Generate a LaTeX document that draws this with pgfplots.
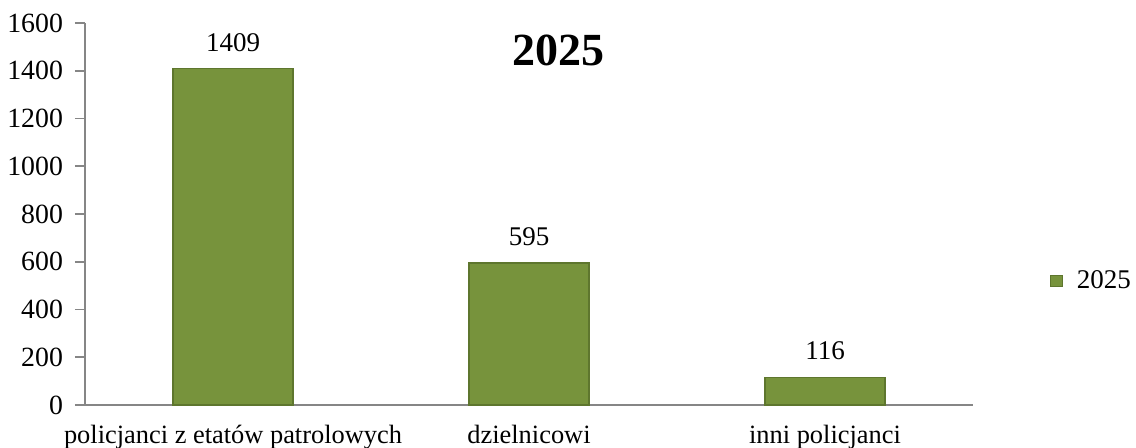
\documentclass[border=0pt]{standalone}
\usepackage{pgfplots}
\pgfplotsset{compat=1.18}
\usepackage{fontspec}
\setmainfont{Liberation Serif}
\definecolor{barg}{RGB}{119,147,60}
\definecolor{bard}{RGB}{94,118,46}
\definecolor{axg}{RGB}{134,134,134}
\begin{document}
\begin{tikzpicture}
\path[use as bounding box] (0,0) rectangle (568pt,224pt);
\begin{axis}[
  at={(42.5pt,21.5pt)}, anchor=south west,
  scale only axis, width=444pt, height=191pt,
  xmin=-0.5, xmax=2.5, ymin=0, ymax=1600,
  axis lines=left, axis line style={-, axg, line width=0.8pt},
  ytick={0,200,...,1600},
  xtick={0,1,2},
  xticklabels={policjanci z etatów patrolowych, dzielnicowi, inni policjanci},
  major x tick style={draw=none},
  extra x ticks={-0.5,0.5,1.5,2.5}, extra x tick labels={},
  extra x tick style={tick style={axg, line width=0.8pt}, major tick length=5pt, tick align=outside},
  y tick style={axg, line width=0.8pt}, major tick length=5pt, tick align=outside,
  /pgf/number format/assume math mode=true,
  /pgf/number format/1000 sep={},
  xticklabel style={yshift=-1.5pt, font=\fontsize{13.2}{15}\selectfont},
  yticklabel style={xshift=-2.5pt, font=\fontsize{13.9}{16}\selectfont},
  ybar, bar width=60pt,
  nodes near coords,
  every node near coord/.append style={font=\fontsize{13.5}{15}\selectfont, yshift=5pt},
  legend style={at={(1.086,0.325)}, anchor=west, draw=none, fill=none,
    font=\fontsize{13.5}{15}\selectfont, inner sep=0pt},
  legend image code/.code={\draw[fill=barg, draw=bard] (0cm,-0.1cm) rectangle (0.21cm,0.1cm);},
  clip=false,
]
\addplot[fill=barg, draw=bard, line width=0.6pt] coordinates {(0,1409) (1,595) (2,116)};
\addlegendentry{\hspace{5pt}2025}
\node[font=\bfseries\fontsize{23}{27}\selectfont] at (axis cs:1.1,1487) {2025};
\end{axis}
\end{tikzpicture}
\end{document}
